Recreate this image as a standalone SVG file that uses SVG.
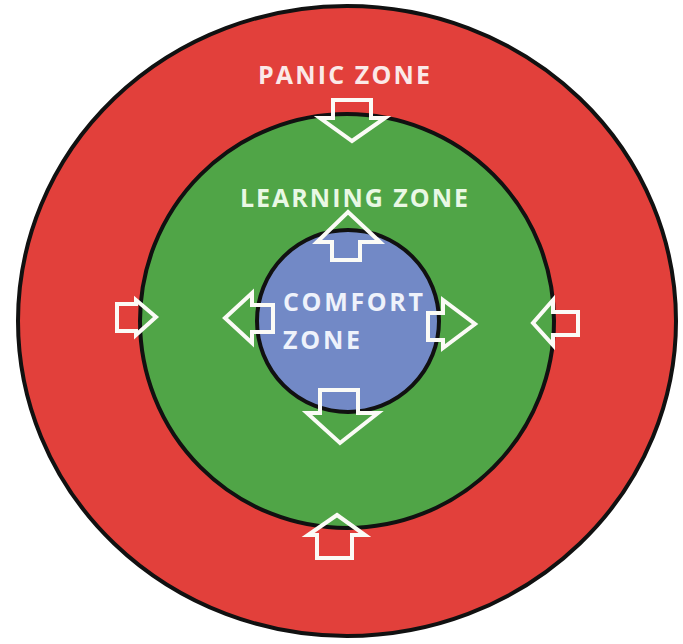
<svg xmlns="http://www.w3.org/2000/svg" width="683" height="644" viewBox="0 0 683 644">
<style>
.ring{stroke:#111;stroke-width:4}
.arrow{fill:none;stroke:#fbfbf6;stroke-width:4;stroke-linejoin:miter}
.lbl{font-family:"Open Sans","Liberation Sans",sans-serif;font-weight:bold;font-size:25px}
</style>
<rect width="683" height="644" fill="#ffffff"/>
<g id="panic-zone">
<ellipse class="ring" cx="347" cy="321" rx="329" ry="315" fill="#E2403B"/>
<text class="lbl" x="258" y="84" textLength="172" fill="#FBE9E8">PANIC ZONE</text>
</g>
<g id="learning-zone">
<circle class="ring" cx="347" cy="321" r="207" fill="#50A547"/>
<text class="lbl" x="240" y="207" textLength="228" fill="#E9F8E4">LEARNING ZONE</text>
</g>
<g id="comfort-zone">
<circle class="ring" cx="348" cy="321" r="91" fill="#7289C6"/>
<text class="lbl" x="283" y="311" textLength="140" font-size="26" fill="#EEF2FB">COMFORT</text>
<text class="lbl" x="283" y="349" textLength="77" font-size="26" fill="#EEF2FB">ZONE</text>
</g>
<g id="connectors">
<path class="arrow" d="M333,100 H371 V118 H385 L352,141 L320,118 H333 Z"/>
<path class="arrow" d="M348,212 L380,242 H360 V260 H332 V242 H317 Z"/>
<path class="arrow" d="M225,318 L252,293 V305 H273 V332 H252 V343 Z"/>
<path class="arrow" d="M428,313 H443 V300 L475,324 L443,348 V340 H428 Z"/>
<path class="arrow" d="M320,390 H358 V413 H378 L340,443 L307,413 H320 Z"/>
<path class="arrow" d="M337,515 L365,535 H352 V558 H317 V535 H308 Z"/>
<path class="arrow" d="M117,304 H136 V300 L156,317 L136,335 V331 H117 Z"/>
<path class="arrow" d="M578,312 V335 H553 V345 L533,323 L553,300 V312 Z"/>
</g>
</svg>
